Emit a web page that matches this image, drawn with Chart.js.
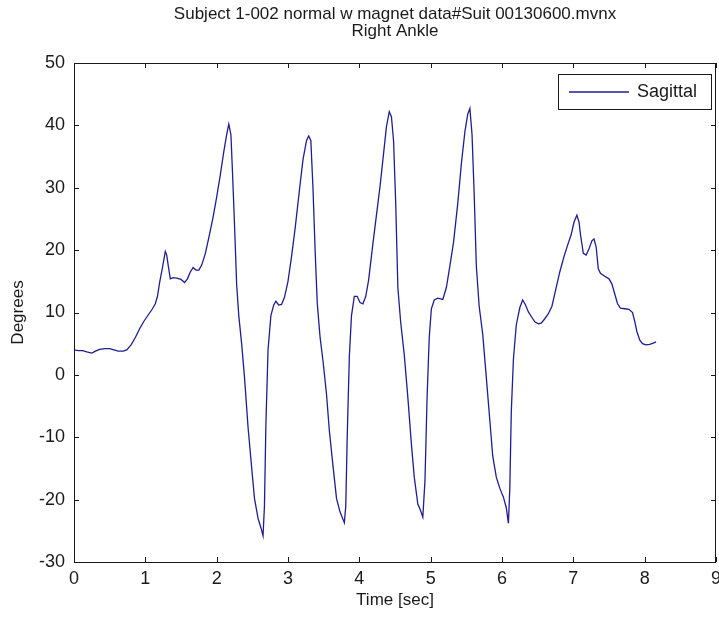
<!DOCTYPE html>
<html>
<head>
<meta charset="utf-8">
<script src="https://cdn.jsdelivr.net/npm/chart.js@4.4.1/dist/chart.umd.min.js"></script>
<style>
  html, body { margin: 0; padding: 0; background: #fff; }
  #wrap { width: 719px; height: 617px; }
</style>
</head>
<body>
<div id="wrap"><canvas id="ankle" width="719" height="617"></canvas></div>
<script>
// Right ankle, sagittal angle over time
const timeSec = [
  0.00, 0.06, 0.12, 0.18, 0.25, 0.30, 0.36, 0.43, 0.50, 0.56, 0.62, 0.69, 0.74, 0.80, 0.86, 0.92, 0.98,
  1.04, 1.10, 1.14, 1.17, 1.20, 1.24, 1.28, 1.30, 1.32, 1.35, 1.39, 1.44, 1.50, 1.55, 1.59, 1.63, 1.67,
  1.71, 1.75, 1.79, 1.84, 1.89, 1.95, 2.00, 2.05, 2.10, 2.14, 2.17, 2.20, 2.22, 2.25, 2.28, 2.31, 2.35,
  2.39, 2.44, 2.49, 2.53, 2.58, 2.62, 2.65, 2.67, 2.69, 2.72, 2.76, 2.80, 2.83, 2.87, 2.91, 2.95, 3.00,
  3.05, 3.10, 3.16, 3.21, 3.26, 3.29, 3.32, 3.35, 3.38, 3.41, 3.45, 3.49, 3.54, 3.58, 3.63, 3.68, 3.73,
  3.79, 3.81, 3.83, 3.86, 3.89, 3.93, 3.97, 4.01, 4.05, 4.09, 4.13, 4.19, 4.24, 4.29, 4.34, 4.38, 4.42,
  4.45, 4.48, 4.51, 4.54, 4.58, 4.63, 4.68, 4.73, 4.77, 4.82, 4.86, 4.89, 4.92, 4.95, 4.98, 5.01, 5.05,
  5.10, 5.17, 5.22, 5.27, 5.32, 5.38, 5.43, 5.48, 5.52, 5.55, 5.58, 5.61, 5.64, 5.68, 5.73, 5.78, 5.83,
  5.87, 5.92, 5.97, 6.02, 6.06, 6.09, 6.11, 6.13, 6.16, 6.20, 6.25, 6.29, 6.33, 6.37, 6.42, 6.46, 6.51,
  6.55, 6.60, 6.65, 6.70, 6.75, 6.81, 6.87, 6.92, 6.97, 7.01, 7.05, 7.08, 7.10, 7.14, 7.18, 7.22, 7.26,
  7.29, 7.32, 7.35, 7.38, 7.44, 7.50, 7.54, 7.58, 7.62, 7.66, 7.72, 7.78, 7.83, 7.86, 7.89, 7.93, 7.97,
  8.02, 8.07, 8.12, 8.16
];
const sagittalDeg = [
  4.0, 3.9, 3.9, 3.7, 3.5, 3.8, 4.1, 4.2, 4.2, 4.0, 3.8, 3.8, 4.0, 4.8, 6.0, 7.4, 8.6,
  9.6, 10.6, 11.4, 12.6, 14.8, 17.2, 19.8, 19.2, 17.6, 15.4, 15.6, 15.5, 15.3, 14.8, 15.4, 16.5, 17.2,
  16.8, 16.8, 17.6, 19.4, 22.0, 25.3, 28.5, 32.0, 35.8, 38.5, 40.2, 38.5, 33.0, 24.2, 14.5, 9.5, 5.0,
  -0.4, -8.4, -14.8, -19.8, -23.0, -24.5, -25.8, -21.0, -8.0, 4.0, 9.5, 11.2, 11.8, 11.2, 11.3, 12.4, 15.0,
  19.0, 23.5, 29.6, 34.5, 37.6, 38.3, 37.6, 30.0, 20.0, 11.5, 6.0, 2.3, -3.1, -9.0, -14.5, -19.8, -22.0,
  -23.7, -21.0, -10.0, 3.0, 9.5, 12.6, 12.6, 11.6, 11.4, 12.6, 15.2, 21.0, 25.6, 30.2, 35.5, 39.8, 42.2,
  41.4, 37.5, 27.5, 14.0, 8.4, 3.2, -3.6, -11.1, -16.4, -20.7, -21.8, -22.8, -17.0, -3.5, 6.0, 10.6, 12.0,
  12.3, 12.1, 14.0, 17.5, 21.2, 27.5, 33.8, 39.0, 41.8, 42.7, 38.5, 29.0, 17.5, 11.0, 6.5, -0.4, -7.4,
  -13.0, -16.4, -18.2, -19.6, -21.3, -23.8, -18.0, -6.0, 2.5, 8.0, 10.8, 12.0, 11.2, 10.1, 9.2, 8.5, 8.2,
  8.3, 9.0, 9.8, 11.0, 13.5, 16.5, 19.0, 20.8, 22.5, 24.5, 25.6, 24.5, 22.5, 19.5, 19.2, 20.2, 21.5,
  21.8, 20.5, 17.0, 16.3, 15.8, 15.4, 14.6, 13.0, 11.4, 10.7, 10.6, 10.5, 10.0, 8.6, 7.0, 5.6, 5.0,
  4.8, 4.9, 5.1, 5.3
];
const titleLines = ['Subject 1-002 normal w magnet data#Suit 00130600.mvnx', 'Right Ankle'];
const seriesName = 'Sagittal';
const xTitle = 'Time [sec]';
const yTitle = 'Degrees';

const FONT = "'Liberation Sans', Arial, sans-serif";
const INK = '#1a1a1a';
const LINE = '#1e1e92';

// matlab style box with ticks pointing inward + legend in the corner
const matlabBox = {
  id: 'matlabBox',
  afterDatasetsDraw(chart) {
    const { ctx, chartArea: a, scales } = chart;
    const len = 5;
    ctx.save();
    ctx.strokeStyle = INK;
    ctx.lineWidth = 1;
    ctx.strokeRect(a.left + 0.5, a.top + 0.5, a.right - a.left - 1, a.bottom - a.top);
    ctx.beginPath();
    scales.x.ticks.forEach(t => {
      const px = Math.round(scales.x.getPixelForValue(t.value)) + 0.5;
      ctx.moveTo(px, a.bottom); ctx.lineTo(px, a.bottom - len);
      ctx.moveTo(px, a.top); ctx.lineTo(px, a.top + len);
    });
    scales.y.ticks.forEach(t => {
      const py = Math.round(scales.y.getPixelForValue(t.value)) + 0.5;
      ctx.moveTo(a.left, py); ctx.lineTo(a.left + len, py);
      ctx.moveTo(a.right, py); ctx.lineTo(a.right - len, py);
    });
    ctx.stroke();

    // legend box
    const bx = 558, by = 74, bw = 153, bh = 35;
    ctx.fillStyle = '#fff';
    ctx.fillRect(bx, by, bw, bh);
    ctx.strokeRect(bx + 0.5, by + 0.5, bw, bh);
    const ds = chart.data.datasets[0];
    ctx.strokeStyle = ds.borderColor;
    ctx.lineWidth = 1.3;
    ctx.beginPath();
    ctx.moveTo(bx + 11, by + 18); ctx.lineTo(bx + 71, by + 18);
    ctx.stroke();
    ctx.fillStyle = INK;
    ctx.font = '18px ' + FONT;
    ctx.textBaseline = 'middle';
    ctx.textAlign = 'left';
    ctx.fillText(ds.label, bx + 79, by + 18);
    ctx.restore();
  }
};

const ctx = document.getElementById('ankle').getContext('2d');
const ankleChart = new Chart(ctx, {
  type: 'scatter',
  data: {
    datasets: [{
      label: seriesName,
      data: timeSec.map((t, i) => ({ x: t, y: sagittalDeg[i] })),
      showLine: true,
      borderColor: LINE,
      borderWidth: 1.3,
      pointRadius: 0,
      tension: 0,
    }]
  },
  options: {
    responsive: false,
    animation: false,
    layout: { padding: { left: 0, right: 3, top: 0, bottom: 0 } },
    plugins: {
      legend: { display: false },
      tooltip: { enabled: false },
      title: {
        display: true,
        fullSize: false,
        text: titleLines,
        color: INK,
        font: { family: FONT, size: 17, weight: 'normal', lineHeight: 1.0 },
        padding: { top: 6, bottom: 23 },
      },
    },
    scales: {
      x: {
        type: 'linear',
        min: 0, max: 9,
        grid: { display: false, drawTicks: false },
        border: { display: false },
        ticks: { stepSize: 1, color: INK, padding: 6, font: { family: FONT, size: 18 } },
        title: { display: true, text: xTitle, color: INK, font: { family: FONT, size: 17, lineHeight: 1.0 }, padding: { top: 2, bottom: 8 } },
        afterFit(scale) {
          scale.height = 55;
          scale.paddingLeft = 0;
          scale.paddingRight = 0;
        },
      },
      y: {
        min: -30, max: 50,
        grid: { display: false, drawTicks: false },
        border: { display: false },
        ticks: { stepSize: 10, color: INK, padding: 9, font: { family: FONT, size: 18 } },
        title: { display: true, text: yTitle, color: INK, font: { family: FONT, size: 17, lineHeight: 1.0 }, padding: { top: 10, bottom: 0 } },
        afterFit(scale) {
          scale.width = 74;
          scale.paddingTop = 0;
          scale.paddingBottom = 0;
        },
      },
    },
  },
  plugins: [matlabBox],
});
</script>
</body>
</html>
